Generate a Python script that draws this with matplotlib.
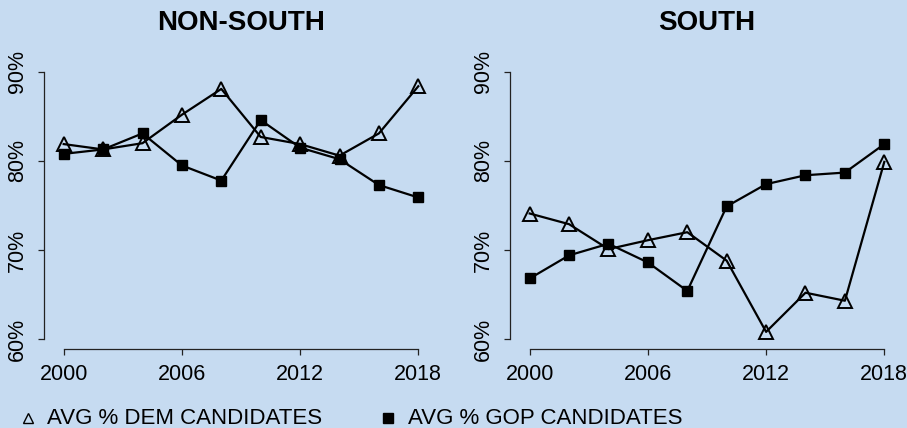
import matplotlib
matplotlib.use("Agg")
import matplotlib.pyplot as plt
from matplotlib.lines import Line2D

plt.rcParams["font.family"] = ["Liberation Sans", "DejaVu Sans"]

years = [2000, 2002, 2004, 2006, 2008, 2010, 2012, 2014, 2016, 2018]

nonsouth_dem = [81.9, 81.3, 82.0, 85.2, 88.1, 82.7, 81.9, 80.6, 83.1, 88.4]
nonsouth_gop = [80.8, 81.3, 83.1, 79.5, 77.8, 84.6, 81.5, 80.2, 77.3, 75.9]

south_dem = [74.1, 72.9, 70.1, 71.1, 72.0, 68.8, 60.8, 65.2, 64.3, 79.9]
south_gop = [66.8, 69.4, 70.7, 68.6, 65.4, 74.9, 77.4, 78.4, 78.7, 81.9]

panel_titles = ["NON-SOUTH", "SOUTH"]
x_ticks = [2000, 2006, 2012, 2018]
y_ticks = [60, 70, 80, 90]
y_tick_labels = ["60%", "70%", "80%", "90%"]
legend_labels = ["AVG % DEM CANDIDATES", "AVG % GOP CANDIDATES"]

BG = "#C6DBF1"
W, H = 907, 428

fig = plt.figure(figsize=(W / 100, H / 100), dpi=100, facecolor=BG)


def px_rect(left, top, right, bottom):
    return [left / W, 1 - bottom / H, (right - left) / W, (bottom - top) / H]


panels = [
    (px_rect(44, 62, 438, 349), nonsouth_dem, nonsouth_gop),
    (px_rect(510, 62, 904, 349), south_dem, south_gop),
]

for (rect, dem, gop), title in zip(panels, panel_titles):
    ax = fig.add_axes(rect)
    ax.set_facecolor(BG)
    ax.plot(years, dem, color="black", lw=1.6, marker="^", ms=10,
            mfc="none", mec="black", mew=1.4, zorder=2)
    ax.plot(years, gop, color="black", lw=1.6, marker="s", ms=7.8,
            mfc="black", mec="black", zorder=3)
    ax.set_xlim(1999.0, 2019.0)
    ax.set_ylim(60 - 10 / 8.9, 90 + 10 / 8.9)
    for s in ("top", "right"):
        ax.spines[s].set_visible(False)
    ax.spines["left"].set_bounds(60, 90)
    ax.spines["bottom"].set_bounds(2000, 2018)
    for s in ("left", "bottom"):
        ax.spines[s].set_linewidth(0.9)
        ax.spines[s].set_color("#222222")
    ax.set_xticks(x_ticks)
    ax.set_xticklabels([str(t) for t in x_ticks])
    ax.set_yticks(y_ticks)
    ax.set_yticklabels(y_tick_labels, rotation=90, va="center")
    ax.tick_params(axis="both", length=4.5, width=0.9, color="#222222",
                   labelsize=15.5)
    ax.tick_params(axis="y", pad=7)
    ax.tick_params(axis="x", pad=6)
    cx = (rect[0] + rect[2] / 2)
    fig.text(cx, 1 - 23 / H, title, ha="center", va="center",
             fontsize=20, fontweight="bold")

# legend row along the bottom
fig.add_artist(Line2D([28 / W], [1 - 418 / H], transform=fig.transFigure,
                      marker="^", ms=7.5, mfc="none", mec="black", mew=1.0,
                      ls="none"))
fig.text(47 / W, 1 - 418 / H, legend_labels[0], ha="left", va="center",
         fontsize=16)
fig.add_artist(Line2D([388 / W], [1 - 418 / H], transform=fig.transFigure,
                      marker="s", ms=6.5, mfc="black", mec="black",
                      ls="none"))
fig.text(408 / W, 1 - 418 / H, legend_labels[1], ha="left", va="center",
         fontsize=16)

fig.savefig("out.png", dpi=100, facecolor=BG)
